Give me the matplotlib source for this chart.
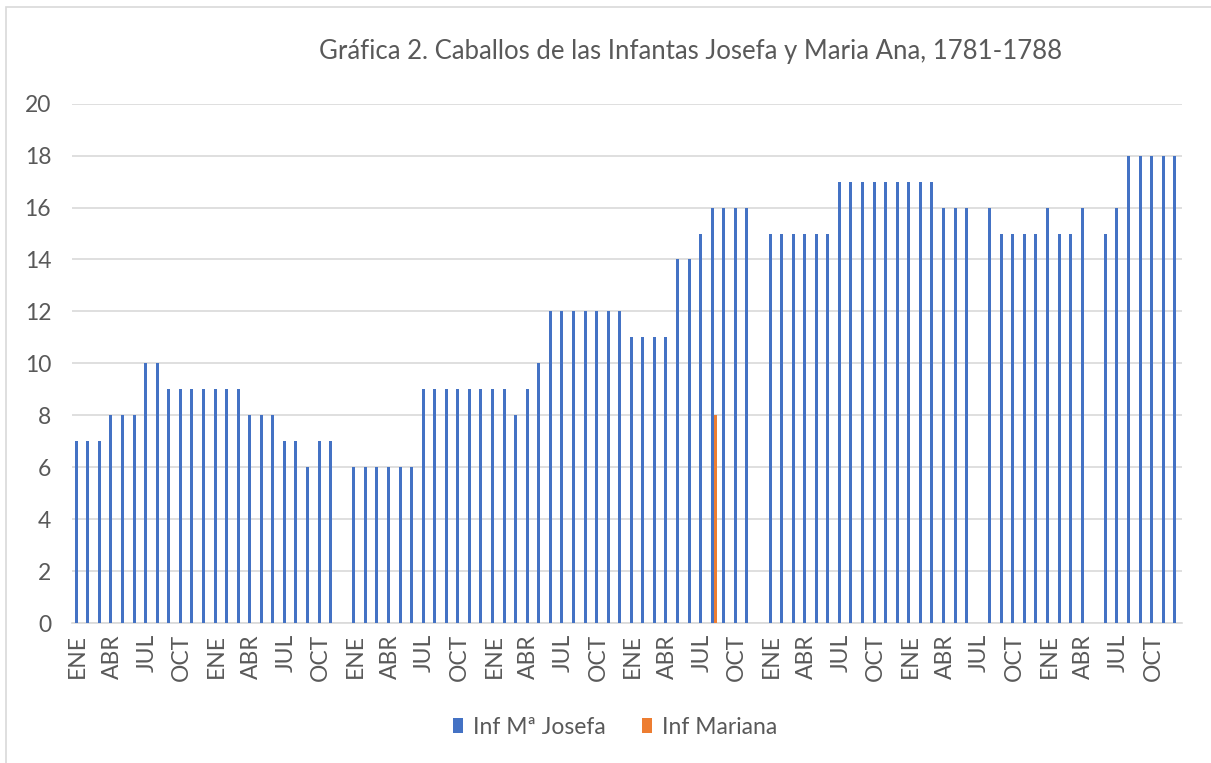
import numpy as np
import matplotlib
matplotlib.use("Agg")
import matplotlib.pyplot as plt
from matplotlib.patches import Rectangle, Patch

plt.rcParams['font.family'] = ['Lato', 'DejaVu Sans']

title = "Gráfica 2. Caballos de las Infantas Josefa y Maria Ana, 1781-1788"
month_names = ['ENE', 'FEB', 'MAR', 'ABR', 'MAY', 'JUN',
               'JUL', 'AGO', 'SEP', 'OCT', 'NOV', 'DIC']
years = [1781, 1782, 1783, 1784, 1785, 1786, 1787, 1788]
categories = month_names * len(years)

N = None
josefa = [
    7, 7, 7, 8, 8, 8, 10, 10, 9, 9, 9, 9,          # 1781
    9, 9, 9, 8, 8, 8, 7, 7, 6, 7, 7, N,            # 1782
    6, 6, 6, 6, 6, 6, 9, 9, 9, 9, 9, 9,            # 1783
    9, 9, 8, 9, 10, 12, 12, 12, 12, 12, 12, 12,    # 1784
    11, 11, 11, 11, 14, 14, 15, 16, 16, 16, 16, N, # 1785
    15, 15, 15, 15, 15, 15, 17, 17, 17, 17, 17, 17,# 1786
    17, 17, 17, 16, 16, 16, N, 16, 15, 15, 15, 15, # 1787
    16, 15, 15, 16, N, 15, 16, 18, 18, 18, 18, 18, # 1788
]
mariana = [N] * 96
mariana[55] = 8  # AGO 1785

series_names = ['Inf Mª Josefa', 'Inf Mariana']
colors = ['#4472C4', '#ED7D31']
yticks = [0, 2, 4, 6, 8, 10, 12, 14, 16, 18, 20]

W, H = 1211, 763
fig = plt.figure(figsize=(W / 100, H / 100), dpi=100)
fig.patch.set_facecolor('white')

# chart border
fig.patches.append(Rectangle((6 / W, -0.1), 1.2, (H - 7) / H + 0.1,
                             transform=fig.transFigure, fill=False,
                             edgecolor='#d9d9d9', linewidth=1.2))

left, right = 72, 1182
top, bottom = 103.7, 623
ax = fig.add_axes([left / W, (H - bottom) / H, (right - left) / W, (bottom - top) / H])

x = np.arange(len(categories))
bw = 0.26
jv = np.array([np.nan if v is None else v for v in josefa], dtype=float)
mv = np.array([np.nan if v is None else v for v in mariana], dtype=float)
mj = ~np.isnan(jv)
mm = ~np.isnan(mv)
ax.bar(x[mj] - bw / 2, jv[mj], width=bw, color=colors[0], linewidth=0, zorder=3)
ax.bar(x[mm] + bw / 2, mv[mm], width=bw, color=colors[1], linewidth=0, zorder=3)

ax.set_xlim(-0.5, len(categories) - 0.5)
ax.set_ylim(0, 20)
ax.set_yticks(yticks)
ax.set_yticklabels([str(v) for v in yticks])
ax.set_xticks(x[::3])
ax.set_xticklabels(categories[::3], rotation=90)
ax.tick_params(axis='both', length=0, colors='#595959', labelsize=16.5)
ax.tick_params(axis='y', pad=15)
ax.tick_params(axis='x', pad=8)
ax.grid(axis='y', color='#d9d9d9', linewidth=1.2, zorder=0)
for s in ['top', 'right', 'left']:
    ax.spines[s].set_visible(False)
ax.spines['bottom'].set_color('#d9d9d9')
ax.spines['bottom'].set_linewidth(1.2)
ax.set_axisbelow(True)

fig.text(691 / W, 1 - 51 / H, title, ha='center', va='center',
         fontsize=18.5, color='#595959')

handles = [Patch(facecolor=c, edgecolor='none') for c in colors]
fig.legend(handles, series_names, loc='center', bbox_to_anchor=(615 / W, 1 - 727 / H),
           ncol=2, frameon=False, fontsize=16.5, handlelength=0.45, handleheight=0.6,
           handletextpad=0.4, columnspacing=1.6, labelcolor='#595959')

fig.savefig('out.png', dpi=100, facecolor='white')
